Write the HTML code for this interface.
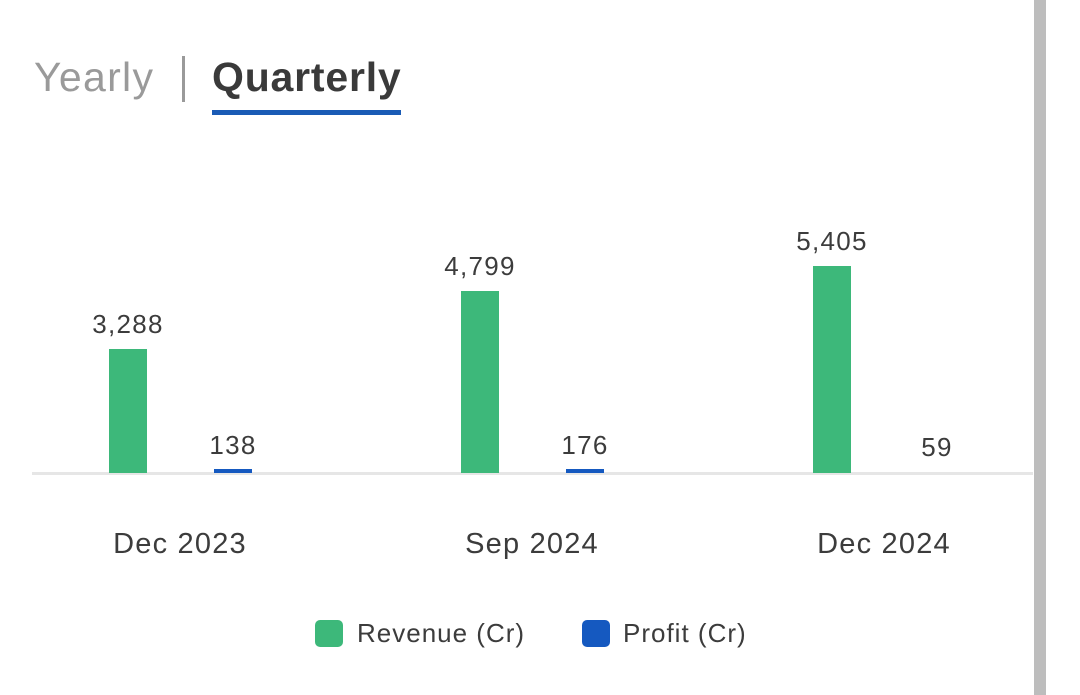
<!DOCTYPE html>
<html><head><style>
body{margin:0;width:1080px;height:695px;background:#fff;position:relative;overflow:hidden;font-family:"Liberation Sans",sans-serif;color:#3c3c3c}
.a{position:absolute}
.l{position:absolute;font-size:26px;letter-spacing:1.3px;text-align:center;width:140px;margin-left:-70px;color:#3c3c3c}
.x{position:absolute;font-size:29px;letter-spacing:1.2px;text-align:center;width:220px;margin-left:-110px;color:#3c3c3c}
.g{background:#3db87a}.b{background:#1559c0}
</style></head><body>
<div class="a" style="left:1034px;top:0;width:12px;height:695px;background:#bdbdbd"></div>
<div class="a" style="left:34px;top:54px;font-size:41px;letter-spacing:1.3px;color:#9a9a9a">Yearly</div>
<div class="a" style="left:182px;top:56px;width:3px;height:46px;background:#9a9a9a"></div>
<div class="a" style="left:212px;top:54px;font-size:41px;letter-spacing:0.8px;font-weight:bold;color:#3a3a3a">Quarterly</div>
<div class="a" style="left:212px;top:110px;width:189px;height:5px;background:#1a5bb5"></div>
<div class="a" style="left:32px;top:472px;width:1001px;height:3px;background:#e6e6e6"></div>
<div class="a g" style="left:109px;top:349px;width:38px;height:124px"></div>
<div class="a g" style="left:461px;top:291px;width:38px;height:182px"></div>
<div class="a g" style="left:813px;top:266px;width:38px;height:207px"></div>
<div class="a b" style="left:214px;top:469px;width:38px;height:4px"></div>
<div class="a b" style="left:566px;top:469px;width:38px;height:4px"></div>
<div class="l" style="left:128px;top:309px">3,288</div>
<div class="l" style="left:480px;top:251px">4,799</div>
<div class="l" style="left:832px;top:226px">5,405</div>
<div class="l" style="left:233px;top:430px">138</div>
<div class="l" style="left:585px;top:430px">176</div>
<div class="l" style="left:937px;top:432px">59</div>
<div class="x" style="left:180px;top:528px">Dec 2023</div>
<div class="x" style="left:532px;top:528px">Sep 2024</div>
<div class="x" style="left:884px;top:528px">Dec 2024</div>
<div class="a g" style="left:315px;top:620px;width:28px;height:27px;border-radius:5px"></div>
<div class="a" style="left:357px;top:618px;font-size:26px;letter-spacing:1px">Revenue (Cr)</div>
<div class="a b" style="left:582px;top:620px;width:28px;height:27px;border-radius:5px"></div>
<div class="a" style="left:623px;top:618px;font-size:26px;letter-spacing:1px">Profit (Cr)</div>
</body></html>
